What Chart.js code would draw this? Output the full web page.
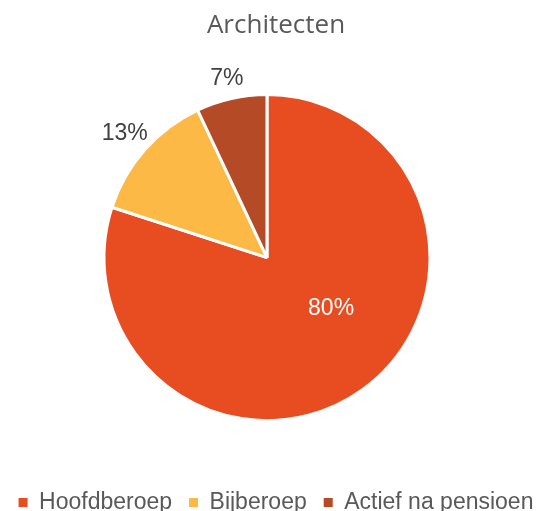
<!DOCTYPE html>
<html>
<head>
<meta charset="utf-8">
<script src="https://cdn.jsdelivr.net/npm/chart.js@4/dist/chart.umd.min.js"></script>
<style>
  html, body { margin: 0; padding: 0; background: #fff; }
  #wrap { width: 552px; height: 511px; }
</style>
</head>
<body>
<div id="wrap"><canvas id="pie_canvas"></canvas></div>
<script>
// chart data
const categories = ['Hoofdberoep', 'Bijberoep', 'Actief na pensioen'];
const shares = [80, 13, 7];
const sliceColors = ['#E84D22', '#FDB946', '#B54A27'];

const labelFont = '23px "Liberation Sans", Arial, sans-serif';

// draws the percentage labels (inside for the big slice, outside for the small ones)
const pctLabels = {
  id: 'pctLabels',
  afterDatasetsDraw(chart) {
    const ctx = chart.ctx;
    const meta = chart.getDatasetMeta(0);
    ctx.save();
    ctx.font = labelFont;
    ctx.textAlign = 'center';
    ctx.textBaseline = 'middle';
    meta.data.forEach((arc, i) => {
      const p = arc.getProps(['x', 'y', 'startAngle', 'endAngle', 'outerRadius'], true);
      const text = shares[i] + '%';
      let ang, r;
      if (shares[i] > 50) {
        // excel puts the inside label a bit before the middle of the slice
        ang = p.startAngle + (p.endAngle - p.startAngle) * 0.445;
        r = p.outerRadius * 0.5;
        ctx.fillStyle = '#ffffff';
      } else {
        ang = (p.startAngle + p.endAngle) / 2;
        const hw = ctx.measureText(text).width / 2;
        const hh = 11;
        const ext = Math.min(hw / Math.abs(Math.cos(ang) || 1e-6), hh / Math.abs(Math.sin(ang) || 1e-6));
        r = p.outerRadius + 10 + ext;
        ctx.fillStyle = '#404040';
      }
      ctx.fillText(text, p.x + Math.cos(ang) * r, p.y + Math.sin(ang) * r + 1);
    });
    ctx.restore();
  }
};

const ctx = document.getElementById('pie_canvas').getContext('2d');
const pieChart = new Chart(ctx, {
  type: 'pie',
  data: {
    labels: categories,
    datasets: [{
      data: shares,
      backgroundColor: sliceColors,
      borderColor: '#ffffff',
      borderWidth: 3,
      radius: 163
    }]
  },
  options: {
    responsive: true,
    maintainAspectRatio: false,
    animation: false,
    layout: { padding: { top: 10, bottom: -13, left: 0, right: 0 } },
    plugins: {
      title: {
        display: true,
        text: 'Architecten',
        color: '#595959',
        font: { family: '"Open Sans", sans-serif', size: 26, weight: 'normal' },
        padding: { top: 0, bottom: 0 }
      },
      // empty strip on the right so the pie sits a little left of the legend
      subtitle: {
        display: true,
        text: ' ',
        position: 'right',
        fullSize: false,
        font: { size: 10 },
        padding: 3
      },
      legend: {
        position: 'bottom',
        labels: {
          color: '#595959',
          font: { family: '"Liberation Sans", Arial, sans-serif', size: 23 },
          usePointStyle: true,
          pointStyle: 'rect',
          boxWidth: 9,
          boxHeight: 9,
          padding: 17,
          generateLabels(chart) {
            const base = Chart.overrides.pie.plugins.legend.labels.generateLabels(chart);
            return base.map(item => Object.assign(item, { lineWidth: 0 }));
          }
        }
      },
      tooltip: { enabled: false }
    }
  },
  plugins: [pctLabels]
});
</script>
</body>
</html>
